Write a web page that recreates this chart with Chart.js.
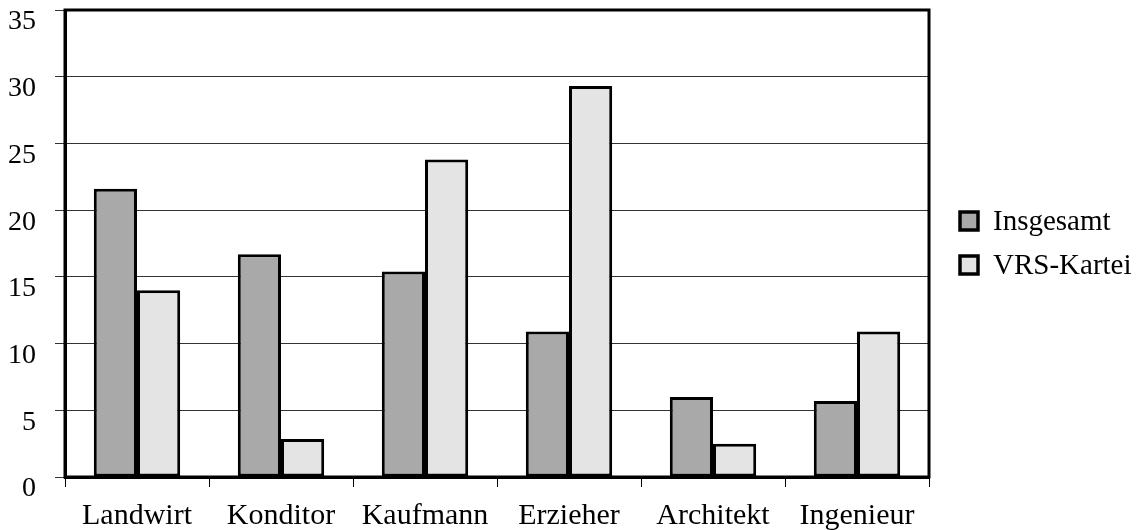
<!DOCTYPE html>
<html>
<head>
<meta charset="utf-8">
<script src="https://cdn.jsdelivr.net/npm/chart.js@4/dist/chart.umd.min.js"></script>
<style>
    body { margin: 0; background: #fff; }
    #wrap { width: 1141px; height: 530px; }
</style>
</head>
<body>
<div id="wrap"><canvas id="berufChart"></canvas></div>
<script>
// Daten
const berufe = ['Landwirt', 'Konditor', 'Kaufmann', 'Erzieher', 'Architekt', 'Ingenieur'];
const insgesamt = [21.6, 16.7, 15.4, 10.9, 6.0, 5.7];
const vrsKartei = [14.0, 2.85, 23.8, 29.3, 2.5, 10.9];
const yTicks = [0, 5, 10, 15, 20, 25, 30, 35];

const serif = '"Liberation Serif", "Times New Roman", serif';

// Rahmen um die Zeichenfläche
const framePlugin = {
    id: 'frame',
    afterDatasetsDraw(chart) {
        const a = chart.chartArea;
        const ctx = chart.ctx;
        ctx.save();
        ctx.strokeStyle = '#000';
        ctx.lineWidth = 3;
        ctx.strokeRect(a.left, a.top, a.right - a.left, a.bottom - a.top);
        ctx.restore();
    }
};

// Legende rechts
const legendPlugin = {
    id: 'sideLegend',
    afterDraw(chart) {
        const ctx = chart.ctx;
        ctx.save();
        ctx.font = '29px ' + serif;
        ctx.textBaseline = 'middle';
        chart.data.datasets.forEach((ds, i) => {
            const y = 221 + i * 44;
            ctx.fillStyle = ds.backgroundColor;
            ctx.fillRect(960, y - 9, 18, 18);
            ctx.strokeStyle = '#000';
            ctx.lineWidth = 3.5;
            ctx.strokeRect(960, y - 9, 18, 18);
            ctx.fillStyle = '#000';
            ctx.fillText(ds.label, 993, y + 1);
        });
        ctx.restore();
    }
};

new Chart(document.getElementById('berufChart'), {
    type: 'bar',
    data: {
        labels: berufe,
        datasets: [{
            label: 'Insgesamt',
            data: insgesamt,
            backgroundColor: '#a9a9a9',
            borderColor: '#000',
            borderWidth: 3,
            borderSkipped: false
        }, {
            label: 'VRS-Kartei',
            data: vrsKartei,
            backgroundColor: '#e4e4e4',
            borderColor: '#000',
            borderWidth: 3,
            borderSkipped: false
        }]
    },
    options: {
        responsive: true,
        maintainAspectRatio: false,
        animation: false,
        layout: {
            padding: { left: 8, right: 212, top: 10, bottom: 0 }
        },
        plugins: {
            legend: { display: false },
            tooltip: { enabled: false }
        },
        datasets: {
            bar: { categoryPercentage: 0.6, barPercentage: 1.0 }
        },
        scales: {
            x: {
                afterFit(axis) {
                    axis.height = 53;
                    axis.paddingLeft = 0;
                    axis.paddingRight = 0;
                },
                grid: {
                    drawOnChartArea: false,
                    drawTicks: true,
                    tickLength: 10,
                    color: '#000',
                    lineWidth: 1
                },
                border: { display: true, color: '#000', width: 3 },
                ticks: {
                    color: '#000',
                    padding: 11,
                    font: { family: serif, size: 30 }
                }
            },
            y: {
                min: 0,
                max: 35,
                afterBuildTicks(axis) {
                    axis.ticks = yTicks.map(v => ({ value: v }));
                },
                afterFit(axis) {
                    axis.width = 57;
                    axis.paddingTop = 0;
                    axis.paddingBottom = 0;
                },
                grid: {
                    color: '#333',
                    lineWidth: 1,
                    tickLength: 10
                },
                border: { display: true, color: '#000', width: 3 },
                ticks: {
                    color: '#000',
                    padding: 19,
                    labelOffset: 12,
                    font: { family: serif, size: 28 }
                }
            }
        }
    },
    plugins: [framePlugin, legendPlugin]
});
</script>
</body>
</html>
